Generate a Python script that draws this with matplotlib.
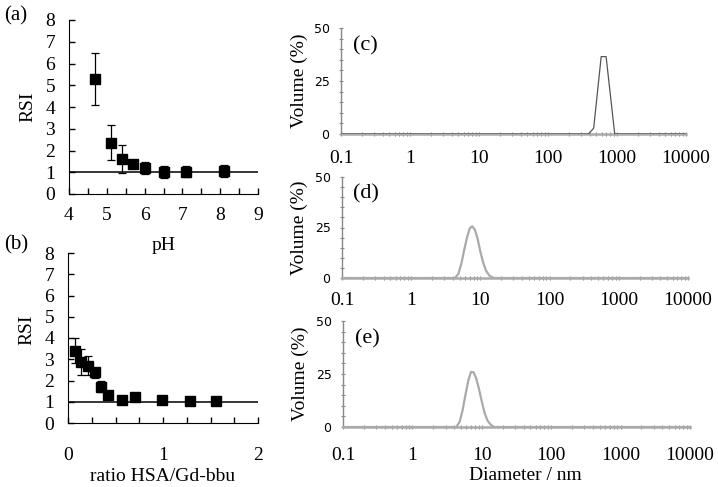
import matplotlib
matplotlib.use('Agg')
import matplotlib.pyplot as plt
from matplotlib.ticker import MultipleLocator, LogLocator, NullFormatter

plt.rcParams['font.family'] = ['Liberation Serif', 'DejaVu Serif']

# (a) RSI vs pH
ph = [4.7, 5.1, 5.4, 5.7, 6.0, 6.5, 7.1, 8.1]
rsi_ph = [5.3, 2.35, 1.6, 1.4, 1.2, 1.02, 1.02, 1.08]
err_ph_lo = [1.2, 0.8, 0.65, 0.0, 0.28, 0.27, 0.26, 0.28]
err_ph_hi = [1.2, 0.8, 0.66, 0.0, 0.26, 0.26, 0.25, 0.27]

# (b) RSI vs ratio HSA/Gd-bbu
ratio = [0.07, 0.14, 0.21, 0.28, 0.35, 0.42, 0.57, 0.71, 0.99, 1.28, 1.56]
rsi_ratio = [3.38, 2.88, 2.7, 2.38, 1.71, 1.33, 1.1, 1.21, 1.1, 1.05, 1.05]
err_ratio_lo = [0.57, 0.62, 0.44, 0.28, 0.23, 0, 0, 0, 0, 0, 0]
err_ratio_hi = [0.6, 0.6, 0.44, 0.22, 0.25, 0, 0, 0, 0, 0, 0]

# (c)-(e) DLS size distributions (diameter nm, volume %)
d_c = [0.1, 385, 459, 590, 695, 927, 10000]
v_c = [0, 0, 2.7, 36.5, 36.5, 0, 0]

d_d = [0.1, 4.3, 4.8, 5.3, 5.8, 6.4, 7.0, 7.6, 8.3, 9.1, 10.0, 11.0, 12.1, 13.5, 15.5, 10000]
v_d = [0, 0, 2, 7, 13.5, 20, 24.5, 25.6, 24, 19.5, 13, 7.5, 3.5, 1.2, 0, 0]

d_e = [0.1, 4.3, 4.8, 5.3, 5.8, 6.4, 7.0, 7.6, 8.3, 9.1, 10.0, 11.0, 12.1, 13.5, 15.0, 10000]
v_e = [0, 0, 2.5, 8, 15, 22, 26, 25.8, 23, 18, 12, 6.5, 3, 1, 0, 0]

W, H = 718, 487
fig = plt.figure(figsize=(W/100, H/100), dpi=100)

def box(l, t, r, b):
    return [l/W, 1-b/H, (r-l)/W, (b-t)/H]

def rsi_axes(rect, xs, ys, lo, hi, xlim, xminor, xlab, xpad, xlab_y, ylab_y):
    ax = fig.add_axes(rect)
    ax.patch.set_alpha(0)
    ax.axhline(1, color='black', lw=1.1, zorder=1)
    ax.errorbar(xs, ys, yerr=[lo, hi], fmt='s', color='black', ms=7,
                ecolor='black', elinewidth=0.9, capsize=3, capthick=0.9, zorder=3)
    ax.set_xlim(*xlim)
    ax.set_ylim(0, 8)
    ax.yaxis.set_major_locator(MultipleLocator(1))
    ax.xaxis.set_major_locator(MultipleLocator(1))
    ax.xaxis.set_minor_locator(MultipleLocator(xminor))
    for s in ['top', 'right']:
        ax.spines[s].set_visible(False)
    ax.tick_params(axis='both', which='both', direction='in', length=4, width=1,
                   labelsize=14)
    ax.tick_params(axis='x', which='major', pad=xpad)
    ax.tick_params(axis='y', pad=10)
    ax.set_ylabel('RSI', fontsize=14)
    ax.yaxis.set_label_coords(-0.17, ylab_y)
    ax.set_xlabel(xlab, fontsize=14)
    ax.xaxis.set_label_coords(0.5, xlab_y)
    return ax

rsi_axes(box(69, 20, 258, 194), ph, rsi_ph, err_ph_lo, err_ph_hi, (4, 9), 0.5,
         'pH', 9, -0.245, 0.5)
rsi_axes(box(68, 253, 258, 423), ratio, rsi_ratio, err_ratio_lo, err_ratio_hi,
         (0, 2), 0.25, 'ratio HSA/Gd-bbu', 17, -0.262, 0.55)

fig.text(16/W, 1-16/H, '(a)', fontsize=15, ha='center', va='center')
fig.text(16/W, 1-245/H, '(b)', fontsize=15, ha='center', va='center')

def dls_axes(rect, xs, ys, color, lw, letter, xpad, show_xlabel):
    ax = fig.add_axes(rect)
    ax.patch.set_alpha(0)
    ax.plot(xs, ys, color=color, lw=lw, zorder=3)
    ax.set_xscale('log')
    ax.set_xlim(0.1, 10000)
    ax.set_ylim(0, 50)
    ax.set_yticks([0, 25, 50])
    ax.yaxis.set_minor_locator(MultipleLocator(5))
    ax.xaxis.set_minor_locator(LogLocator(base=10, subs=range(2, 10), numticks=10))
    ax.xaxis.set_minor_formatter(NullFormatter())
    ax.set_xticks([0.1, 1, 10, 100, 1000, 10000])
    ax.set_xticklabels(['0.1', '1', '10', '100', '1000', '10000'])
    for s in ['top', 'right']:
        ax.spines[s].set_visible(False)
    ax.spines['left'].set_color('#888888')
    ax.spines['left'].set_linewidth(1.0)
    ax.spines['bottom'].set_color('#aaaaaa')
    ax.spines['bottom'].set_linewidth(1.8)
    ax.tick_params(axis='both', which='both', direction='inout', length=2.5,
                   width=0.8, color='#888888')
    ax.tick_params(axis='x', which='major', labelsize=14, pad=xpad)
    ax.tick_params(axis='y', which='major', labelsize=9, pad=7)
    for t in ax.get_yticklabels():
        t.set_family(['DejaVu Sans'])
    ax.set_ylabel('Volume (%)', fontsize=14)
    ax.yaxis.set_label_coords(-0.097, 0.5)
    ax.text(0.07, 0.83, letter, transform=ax.transAxes, fontsize=16,
            ha='center', va='center')
    if show_xlabel:
        ax.set_xlabel('Diameter / nm', fontsize=14)
        ax.xaxis.set_label_coords(0.527, -0.38)
    return ax

dls_axes(box(341, 28, 686, 134), d_c, v_c, '#555555', 0.9, '(c)', 10, False)
dls_axes(box(342, 177, 688, 278), d_d, v_d, '#aaaaaa', 1.6, '(d)', 9, False)
dls_axes(box(343, 321, 690, 427), d_e, v_e, '#aaaaaa', 1.6, '(e)', 13, True)

fig.savefig('out.png', dpi=100)
